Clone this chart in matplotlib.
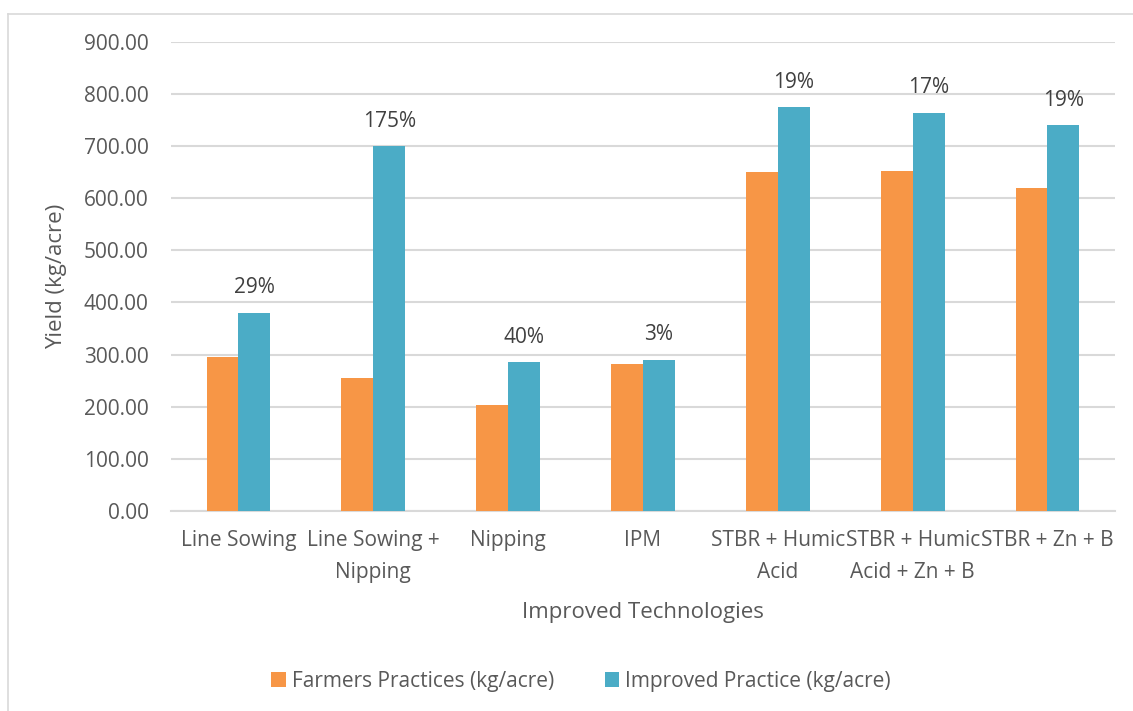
import numpy as np
import matplotlib
matplotlib.use('Agg')
import matplotlib.pyplot as plt
from matplotlib.lines import Line2D

plt.rcParams['font.family'] = ['Open Sans', 'DejaVu Sans']

technologies = ['Line Sowing', 'Line Sowing +\nNipping', 'Nipping', 'IPM',
                'STBR + Humic\nAcid', 'STBR + Humic\nAcid + Zn + B', 'STBR + Zn + B']
farmers = [295, 254, 203, 282, 651, 653, 620]
improved = [380, 700, 285, 290, 774, 764, 740]
increase = ['29%', '175%', '40%', '3%', '19%', '17%', '19%']

orange = '#F79646'
blue = '#4BACC6'
grey_text = '#595959'
grid_col = '#D9D9D9'

fig = plt.figure(figsize=(11.33, 7.11), dpi=100)
ax = fig.add_axes([0.151, 0.2815, 0.833, 0.6597])

x = np.arange(len(technologies))
w = 0.237
ax.bar(x - w / 2, farmers, w, color=orange, label='Farmers Practices (kg/acre)', zorder=3)
ax.bar(x + w / 2, improved, w, color=blue, label='Improved Practice (kg/acre)', zorder=3)

for xi, val, txt in zip(x, improved, increase):
    ax.annotate(txt, (xi + w / 2, val), xytext=(0, 25), textcoords='offset pixels',
                ha='center', va='center', fontsize=15, color='#404040')

ax.set_xlim(-0.5, len(technologies) - 0.5)
ax.set_ylim(0, 900)
ax.set_yticks(np.arange(0, 901, 100))
ax.set_yticklabels(['%.2f' % v for v in np.arange(0, 901, 100)])
ax.set_xticks(x)
ax.set_xticklabels(technologies, linespacing=1.65)
ax.tick_params(axis='both', length=0, labelsize=15, labelcolor=grey_text)
ax.tick_params(axis='y', pad=16)
ax.tick_params(axis='x', pad=14)

ax.yaxis.grid(True, color=grid_col, linewidth=1.5, zorder=0)
for s in ['top', 'right', 'left']:
    ax.spines[s].set_visible(False)
ax.spines['bottom'].set_color(grid_col)
ax.spines['bottom'].set_linewidth(1.5)

ax.set_ylabel('Yield (kg/acre)', fontsize=16, color=grey_text, labelpad=12)
ax.set_xlabel('Improved Technologies', fontsize=16, color=grey_text, labelpad=14)

ax.legend(loc='center', bbox_to_anchor=(0.513, 0.042), bbox_transform=fig.transFigure,
          ncol=2, frameon=False, fontsize=15, labelcolor=grey_text,
          handlelength=0.7, handleheight=0.7, handletextpad=0.3, columnspacing=2.4)

# outer chart border
fig.add_artist(Line2D([8 / 1133, 8 / 1133], [0, 1 - 14 / 711], color=grid_col, lw=1.2))
fig.add_artist(Line2D([8 / 1133, 1], [1 - 14 / 711, 1 - 14 / 711], color=grid_col, lw=1.2))

plt.savefig('out.png', dpi=100)
